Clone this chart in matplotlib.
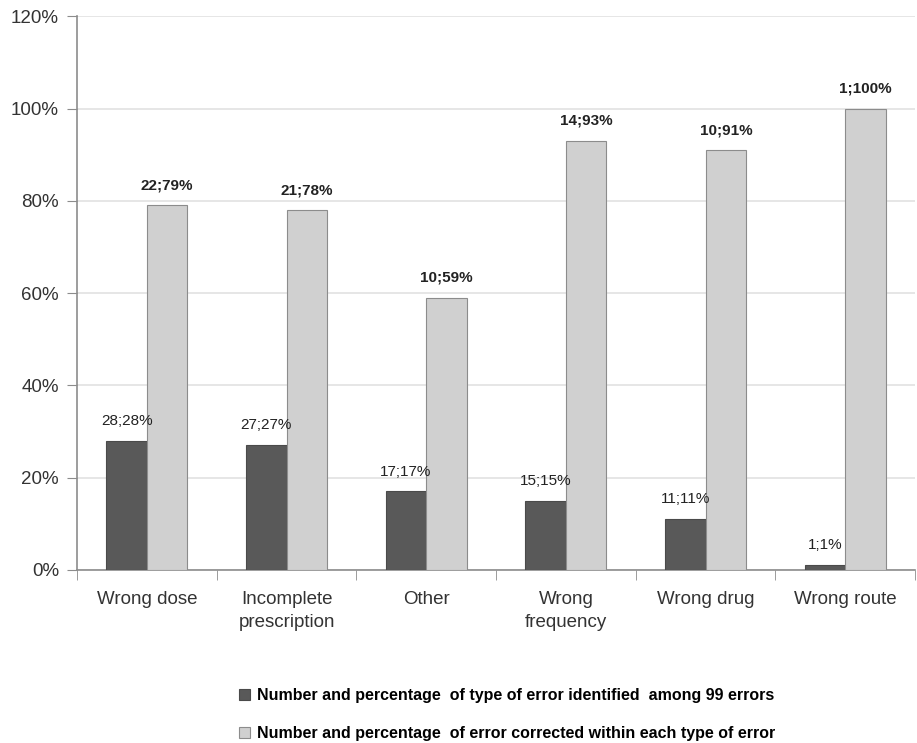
import numpy as np
import matplotlib
matplotlib.use("Agg")
import matplotlib.pyplot as plt
from matplotlib.ticker import FuncFormatter

plt.rcParams['font.family'] = ['Liberation Sans Narrow', 'Liberation Sans', 'DejaVu Sans']

categories = ["Wrong dose", "Incomplete\nprescription", "Other", "Wrong\nfrequency", "Wrong drug", "Wrong route"]
identified_n = [28, 27, 17, 15, 11, 1]
identified_pct = [28, 27, 17, 15, 11, 1]
corrected_n = [22, 21, 10, 14, 10, 1]
corrected_pct = [79, 78, 59, 93, 91, 100]

fig = plt.figure(figsize=(9.17, 7.43), dpi=100)
ax = fig.add_axes([0.084, 0.233, 0.914, 0.745])

x = np.arange(len(categories))
w = 0.29
b1 = ax.bar(x - w / 2, identified_pct, w, color="#595959", edgecolor="#4a4a4a", linewidth=0.8,
            label="Number and percentage  of type of error identified  among 99 errors", zorder=3)
b2 = ax.bar(x + w / 2, corrected_pct, w, color="#d0d0d0", edgecolor="#8c8c8c", linewidth=0.8,
            label="Number and percentage  of error corrected within each type of error", zorder=3)

for i in range(len(x)):
    ax.text(x[i] - w / 2, identified_pct[i] + 2.8, f"{identified_n[i]};{identified_pct[i]}%",
            ha="center", va="bottom", fontsize=11, color="#222222")
    ax.text(x[i] + w / 2, corrected_pct[i] + 2.8, f"{corrected_n[i]};{corrected_pct[i]}%",
            ha="center", va="bottom", fontsize=11, fontweight="bold", color="#222222")

ax.set_xlim(-0.5, len(categories) - 0.5)
ax.set_ylim(0, 120)
ax.set_yticks(np.arange(0, 121, 20))
ax.yaxis.set_major_formatter(FuncFormatter(lambda v, p: f"{int(v)}%"))
ax.yaxis.grid(True, color="#e2e2e2", linewidth=1.2, zorder=0)
ax.set_axisbelow(True)

ax.set_xticks(x)
ax.set_xticklabels(categories, fontsize=13.5, color="#333333", linespacing=1.45)
ax.set_xticks(np.arange(-0.5, len(categories), 1), minor=True)
ax.tick_params(axis="x", which="major", length=0, pad=15)
ax.tick_params(axis="x", which="minor", length=7, color="#8c8c8c", direction="out")
ax.tick_params(axis="y", length=7, color="#8c8c8c", labelsize=13.5, labelcolor="#333333", pad=6)

for s in ["top", "right"]:
    ax.spines[s].set_visible(False)
for s in ["left", "bottom"]:
    ax.spines[s].set_color("#8c8c8c")
    ax.spines[s].set_linewidth(1.2)

fig.legend(handles=[b1, b2], loc="lower center", bbox_to_anchor=(0.553, -0.017), frameon=False,
           prop={"weight": "bold", "size": 11.5}, handlelength=0.7, handleheight=0.7,
           handletextpad=0.4, labelspacing=1.45)

fig.savefig("out.png", dpi=100)
